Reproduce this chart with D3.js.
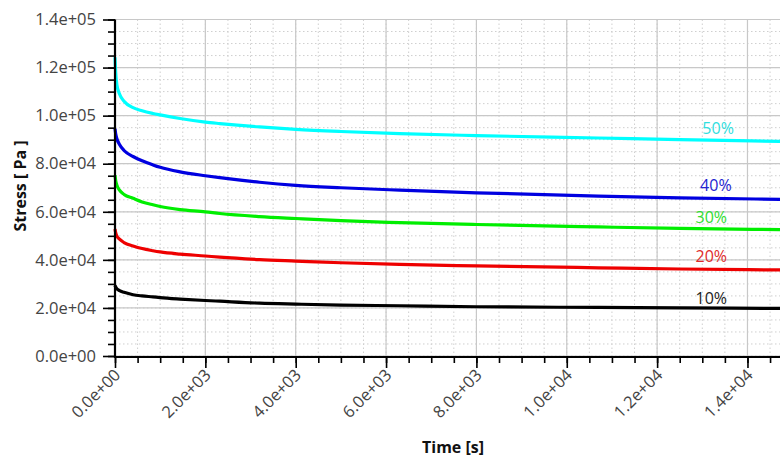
<!DOCTYPE html>
<html>
<head>
<meta charset="utf-8">
<script src="https://cdn.jsdelivr.net/npm/d3@7"></script>
<style>
  body { margin: 0; background: #fff; }
  text { font-family: "Open Sans", "Noto Sans", sans-serif; }
</style>
</head>
<body>
<div id="grafica"></div>
<script>
// tiempos (s) y esfuerzos (Pa)
var tiempos = [0, 15, 40, 100, 200, 400, 600, 840, 1000, 1440, 2000, 2320, 3200, 4000, 5000, 6300, 8000, 10700, 12500, 14720];
var s50 = [124300, 118000, 113000, 109000, 106000, 103300, 102000, 100900, 100300, 98800, 97300, 96700, 95300, 94300, 93400, 92500, 91700, 90700, 90000, 89300];
var s40 = [94600, 92500, 90500, 88000, 85500, 83000, 81200, 79500, 78500, 76600, 75000, 74200, 72300, 71000, 70000, 69000, 67900, 66500, 65800, 65200];
var s30 = [75200, 73000, 71200, 69000, 67200, 65600, 64100, 62900, 62200, 60900, 60000, 59300, 58000, 57200, 56300, 55500, 54700, 53700, 53100, 52600];
var s20 = [52800, 51300, 50000, 48600, 47200, 45800, 44700, 43800, 43300, 42400, 41600, 41100, 40100, 39500, 38800, 38100, 37500, 36700, 36200, 35800];
var s10 = [29400, 28700, 28000, 27200, 26500, 25500, 25000, 24600, 24300, 23700, 23100, 22800, 22000, 21600, 21200, 20900, 20500, 20200, 20000, 19800];
var series = [s50, s40, s30, s20, s10];
var nombres = ['50%', '40%', '30%', '20%', '10%'];
var colores = ['#00ffff', '#0000e0', '#00ee00', '#ee0000', '#000000'];
var colorEtiqueta = ['#30dede', '#2323d0', '#30dd30', '#e02a2a', '#222222'];
// posicion de las etiquetas (en unidades de datos)
var etiquetaT = [13350, 13300, 13200, 13200, 13200];
var etiquetaV = [92400, 68500, 55200, 39000, 21500];
var xTicks = [0, 2000, 4000, 6000, 8000, 10000, 12000, 14000];
var yTicks = [0, 20000, 40000, 60000, 80000, 100000, 120000, 140000];

var svg = d3.select("#grafica")
	.append('svg')
	.attr("width", 780)
	.attr("height", 460);

var izq = 115, der = 780, arriba = 19.5, abajo = 356;

var x = d3.scaleLinear().domain([0, 14720]).range([izq, der]);
var y = d3.scaleLinear().domain([0, 140000]).range([abajo, arriba]);

function fmt(v) {
	return v.toExponential(1).replace(/e([+-])(\d)$/, "e$10$2");
}

var menoresX = d3.range(0, 14721, 500);
var menoresY = d3.range(0, 140001, 5000);

// rejilla menor punteada
svg.append("g").selectAll("line").data(menoresX).join("line")
	.attr("x1", d => x(d)).attr("x2", d => x(d))
	.attr("y1", arriba).attr("y2", abajo)
	.attr("stroke", "#cfcfcf").attr("stroke-dasharray", "1.5,2.5");
svg.append("g").selectAll("line").data(menoresY).join("line")
	.attr("x1", izq).attr("x2", der)
	.attr("y1", d => y(d)).attr("y2", d => y(d))
	.attr("stroke", "#cfcfcf").attr("stroke-dasharray", "1.5,2.5");

// rejilla mayor
svg.append("g").selectAll("line").data(xTicks).join("line")
	.attr("x1", d => x(d)).attr("x2", d => x(d))
	.attr("y1", arriba).attr("y2", abajo)
	.attr("stroke", "#c8c8c8").attr("stroke-width", 1.2);
svg.append("g").selectAll("line").data(yTicks).join("line")
	.attr("x1", izq).attr("x2", der)
	.attr("y1", d => y(d)).attr("y2", d => y(d))
	.attr("stroke", "#c8c8c8").attr("stroke-width", 1.2);

// curvas
var linea = d3.line()
	.x((d, i) => x(tiempos[i]))
	.y(d => y(d))
	.curve(d3.curveMonotoneX);

for (var i = series.length - 1; i >= 0; i--) {
	svg.append("path")
		.attr("d", linea(series[i]))
		.attr("fill", "none")
		.attr("stroke", colores[i])
		.attr("stroke-width", 3.2);
}

for (var j = 0; j < nombres.length; j++) {
	svg.append("text")
		.attr("x", x(etiquetaT[j]))
		.attr("y", y(etiquetaV[j]))
		.attr("text-anchor", "middle")
		.attr("font-size", "16px")
		.attr("fill", colorEtiqueta[j])
		.text(nombres[j]);
}

// eje y
svg.append("g")
	.attr("transform", "translate(" + izq + ",0)")
	.call(d3.axisLeft(y).tickValues(menoresY).tickSize(7).tickFormat(""))
	.call(g => g.select(".domain").remove())
	.selectAll("line").attr("stroke", "#000").attr("stroke-width", 1.6);
var ejeY = svg.append("g")
	.attr("transform", "translate(" + izq + ",0)")
	.call(d3.axisLeft(y).tickValues(yTicks).tickSize(12).tickPadding(7).tickFormat(fmt));
ejeY.select(".domain").remove();
ejeY.selectAll("line").attr("stroke", "#000").attr("stroke-width", 1.6);
ejeY.selectAll("text")
	.attr("font-size", "16.5px")
	.attr("fill", "#444")
	.style("font-family", "'Open Sans', 'Noto Sans', sans-serif");

// eje x
svg.append("g")
	.attr("transform", "translate(0," + (abajo + 1) + ")")
	.call(d3.axisBottom(x).tickValues(menoresX).tickSize(6).tickFormat(""))
	.call(g => g.select(".domain").remove())
	.selectAll("line").attr("stroke", "#000").attr("stroke-width", 1.6);
var ejeX = svg.append("g")
	.attr("transform", "translate(0," + (abajo + 1) + ")")
	.call(d3.axisBottom(x).tickValues(xTicks).tickSize(11).tickFormat(fmt));
ejeX.select(".domain").remove();
ejeX.selectAll("line").attr("stroke", "#000").attr("stroke-width", 1.6);
ejeX.selectAll("text")
	.attr("font-size", "16.5px")
	.attr("fill", "#444")
	.style("font-family", "'Open Sans', 'Noto Sans', sans-serif")
	.attr("text-anchor", "end")
	.attr("dy", null)
	.attr("y", 0)
	.attr("transform", "translate(6,19) rotate(-45)");

// lineas de los ejes
svg.append("line")
	.attr("x1", izq).attr("x2", izq)
	.attr("y1", arriba).attr("y2", abajo + 2)
	.attr("stroke", "#000").attr("stroke-width", 2.2);
svg.append("line")
	.attr("x1", izq - 1).attr("x2", der)
	.attr("y1", abajo + 1).attr("y2", abajo + 1)
	.attr("stroke", "#000").attr("stroke-width", 2.2);

// titulos
svg.append("text")
	.attr("x", 453)
	.attr("y", 453)
	.attr("text-anchor", "middle")
	.attr("font-size", "16px")
	.attr("font-weight", "bold")
	.attr("fill", "#111")
	.text("Time [s]");

svg.append("text")
	.attr("transform", "translate(26,186) rotate(-90)")
	.attr("text-anchor", "middle")
	.attr("font-size", "16px")
	.attr("font-weight", "bold")
	.attr("fill", "#111")
	.text("Stress [ Pa ]");
</script>
</body>
</html>
